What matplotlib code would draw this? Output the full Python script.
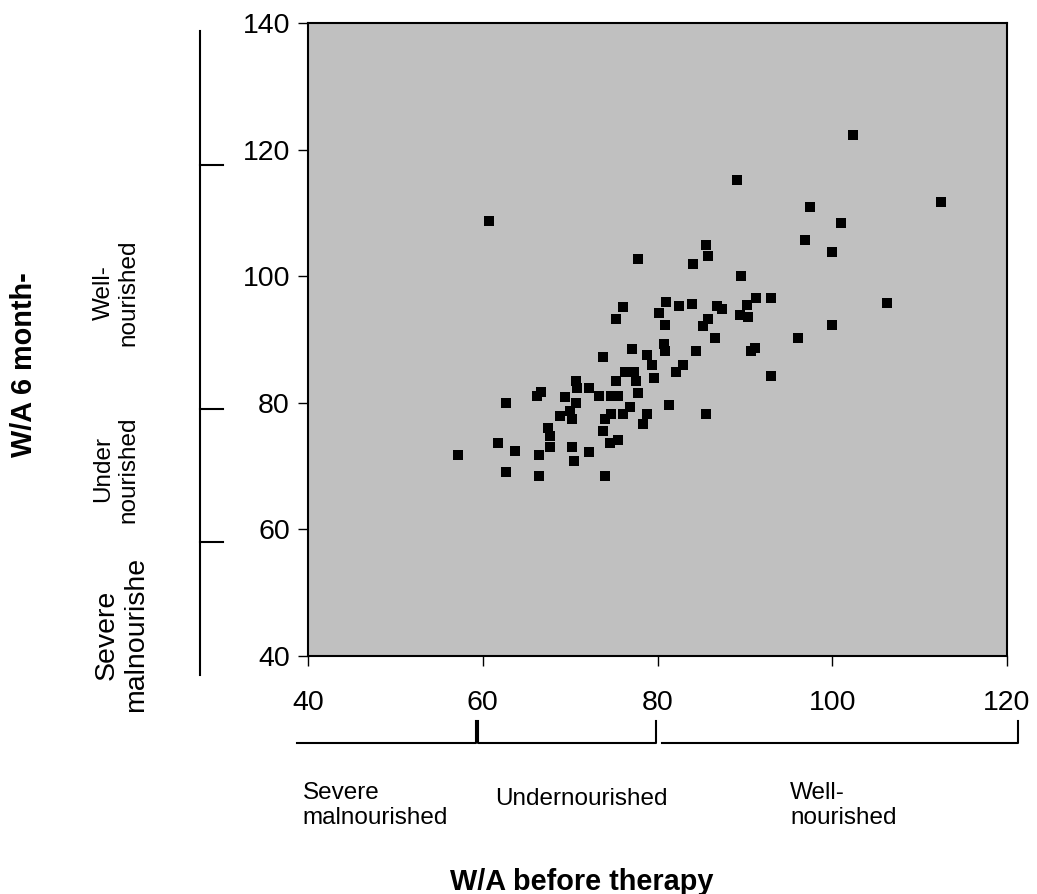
import matplotlib
matplotlib.use("Agg")
import matplotlib.pyplot as plt
from matplotlib.lines import Line2D

plt.rcParams['font.family'] = ['Liberation Sans', 'DejaVu Sans']

# W/A before therapy (x) vs W/A after 6 months (y)
wa_before = [57.2, 62.7, 61.7, 63.7, 62.7, 66.2, 66.7, 66.4, 66.4, 67.5,
             67.7, 67.7, 68.8, 69.4, 70.2, 70.0, 70.7, 70.7, 70.8, 70.2,
             70.5, 72.2, 72.2, 73.3, 73.8, 73.8, 74.0, 74.0, 74.7, 74.6,
             75.5, 74.7, 75.5, 75.2, 76.1, 76.9, 76.3, 77.3, 77.5, 77.8,
             77.1, 78.8, 79.4, 79.6, 78.8, 78.3, 80.7, 80.8, 81.3, 82.1,
             82.9, 84.4, 85.5, 86.6, 60.7, 77.8, 85.5, 85.8, 84.1, 76.0,
             75.2, 81.0, 82.5, 83.9, 86.8, 87.4, 80.2, 85.8, 85.2, 80.8,
             102.4, 89.1, 112.5, 97.4, 101.0, 96.9, 100.0, 89.6, 91.3, 93.0,
             90.2, 89.4, 90.3, 106.3, 100.0, 96.1, 91.1, 90.7, 93.0]
wa_6month = [71.8, 80.0, 73.7, 72.4, 69.1, 81.1, 81.8, 71.8, 68.5, 76.1,
             74.8, 73.1, 78.0, 81.0, 77.5, 78.8, 80.0, 83.4, 82.4, 73.1,
             70.9, 82.4, 72.2, 81.1, 87.3, 75.5, 68.5, 77.5, 78.2, 73.7,
             74.2, 81.1, 81.1, 83.4, 78.2, 79.4, 84.9, 84.9, 83.5, 81.5,
             88.5, 87.6, 86.0, 84.0, 78.2, 76.7, 89.3, 88.2, 79.7, 84.9,
             86.0, 88.2, 78.2, 90.3, 108.7, 102.7, 105.0, 103.3, 102.0, 95.1,
             93.2, 95.9, 95.4, 95.7, 95.4, 94.8, 94.2, 93.2, 92.1, 92.3,
             122.3, 115.3, 111.7, 110.9, 108.4, 105.7, 103.8, 100.0, 96.6, 96.6,
             95.5, 93.9, 93.6, 95.8, 92.3, 90.3, 88.7, 88.2, 84.3]

x_ticks = [40, 60, 80, 100, 120]
y_ticks = [40, 60, 80, 100, 120, 140]

fig = plt.figure(figsize=(10.37, 8.94), dpi=100)
ax = fig.add_axes([0.297, 0.2662, 0.6741, 0.7077])
ax.set_facecolor('#c0c0c0')
ax.scatter(wa_before, wa_6month, marker='s', s=46, color='black', linewidths=0, zorder=3)

ax.set_xlim(40, 120)
ax.set_ylim(40, 140)
ax.set_xticks(x_ticks)
ax.set_yticks(y_ticks)
ax.tick_params(axis='both', direction='out', length=7.2, width=1, labelsize=20.5)
ax.tick_params(axis='x', pad=17)
ax.tick_params(axis='y', pad=5.8)
for sp in ax.spines.values():
    sp.set_linewidth(1.5)

# left bracket (categories of W/A at 6 months)
lw = 1.5
fig.add_artist(Line2D([0.1929, 0.1929], [0.245, 0.9653], color='black', lw=lw))
for yy in [0.8154, 0.5425, 0.3937]:
    fig.add_artist(Line2D([0.1929, 0.2147], [yy, yy], color='black', lw=lw))

# bottom bracket (categories of W/A before therapy)
yb, yt = 0.1692, 0.1935
fig.add_artist(Line2D([0.2867, 0.459, 0.459], [yb, yb, yt], color='black', lw=lw))
fig.add_artist(Line2D([0.461, 0.461, 0.6326, 0.6326], [yt, yb, yb, yt], color='black', lw=lw))
fig.add_artist(Line2D([0.6381, 0.9814, 0.9814], [yb, yb, yt], color='black', lw=lw))

# category texts
fig.text(0.112, 0.673, 'Well-\nnourished', rotation=90, fontsize=17.5,
         ha='center', va='center', multialignment='center')
fig.text(0.112, 0.475, 'Under\nnourished', rotation=90, fontsize=17.5,
         ha='center', va='center', multialignment='center')
fig.text(0.117, 0.290, 'Severe\nmalnourishe', rotation=90, fontsize=20.5,
         ha='center', va='center', multialignment='center')

fig.text(0.292, 0.099, 'Severe\nmalnourished', fontsize=17.5, ha='left', va='center')
fig.text(0.477, 0.0996, 'Undernourished', fontsize=17.5, ha='left', va='baseline')
fig.text(0.762, 0.099, 'Well-\nnourished', fontsize=17.5, ha='left', va='center')

# axis titles
fig.text(0.023, 0.592, 'W/A 6 month-', rotation=90, fontsize=20.8, fontweight='bold',
         ha='center', va='center')
fig.text(0.561, 0.005, 'W/A before therapy', fontsize=20.8, fontweight='bold',
         ha='center', va='baseline')

fig.savefig('out.png', dpi=100)
